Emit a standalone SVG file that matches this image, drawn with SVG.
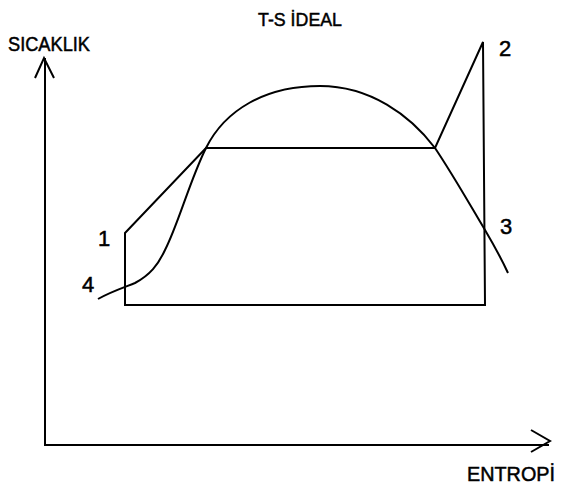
<svg xmlns="http://www.w3.org/2000/svg" width="577" height="492" viewBox="0 0 577 492">
<style>
.ln{fill:none;stroke:#000;stroke-width:2;stroke-linejoin:miter;stroke-linecap:butt}
.t{font-family:"Liberation Sans",Arial,sans-serif;fill:#000;stroke:#000;stroke-width:0.5}
</style>
<rect width="577" height="492" fill="#fff"/>
<g id="axes">
<path class="ln" d="M45,58 V445 H549"/>
<path class="ln" d="M35,78 L44,58 L54,78"/>
<path class="ln" d="M531,430 L550,441 L531,452"/>
</g>
<g id="dome">
<path class="ln" d="M98,299 C110,292 125,287 135,283 C150,275 158,265 165,250 C178,225 190,180 206,148 C225,110 265,86 320,86 C370,86 410,115 435,148 C455,178 470,205 485,230 C495,247 502,260 508,273"/>
</g>
<g id="connectors">
<path class="ln" d="M125,233 L206,148 H435 L483,42 L485,305 H125 Z"/>
</g>
<g id="labels">
<text class="t" x="300" y="26" font-size="19" text-anchor="middle" textLength="84" lengthAdjust="spacingAndGlyphs">T-S İDEAL</text>
<text class="t" x="8" y="51" font-size="21" textLength="82" lengthAdjust="spacingAndGlyphs">SICAKLIK</text>
<text class="t" x="499" y="56" font-size="22">2</text>
<text class="t" x="98" y="246" font-size="22">1</text>
<text class="t" x="500" y="234" font-size="22">3</text>
<text class="t" x="82" y="292" font-size="22">4</text>
<text class="t" x="467" y="481" font-size="21" textLength="88" lengthAdjust="spacingAndGlyphs">ENTROPİ</text>
</g>
</svg>
